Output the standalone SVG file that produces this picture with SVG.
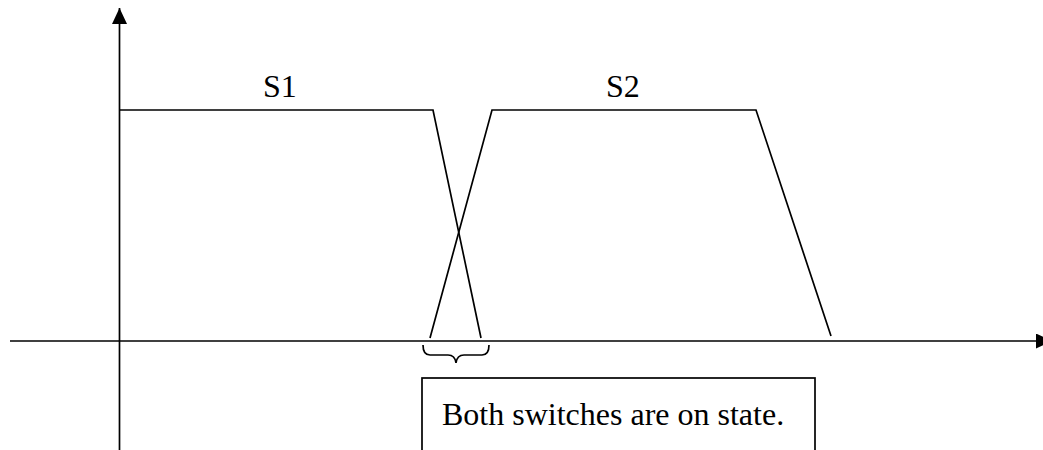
<svg xmlns="http://www.w3.org/2000/svg" width="1043" height="450" viewBox="0 0 1043 450">
<defs>
<style>
.ln{stroke:#000;stroke-width:1.7;fill:none}
.tx{font-family:"Liberation Serif","Times New Roman",serif;font-size:32px;fill:#000}
</style>
<marker id="ah" viewBox="0 0 16 15" refX="16" refY="7.5" markerWidth="16" markerHeight="15" markerUnits="userSpaceOnUse" orient="auto">
<path d="M0,0 L16,7.5 L0,15 Z" fill="#000"/>
</marker>
</defs>
<g id="connectors">
<line id="y-axis" class="ln" x1="119.5" y1="450" x2="119.5" y2="8" marker-end="url(#ah)"/>
<line id="x-axis" class="ln" x1="10" y1="341" x2="1052" y2="341" marker-end="url(#ah)"/>
</g>
<g id="S1">
<polyline class="ln" points="120,110 433,110 481,338"/>
<text class="tx" x="263" y="97">S1</text>
</g>
<g id="S2">
<polyline class="ln" points="430,338 492,110 756,110 831,336"/>
<text class="tx" x="606" y="97">S2</text>
</g>
<g id="brace">
<path class="ln" d="M423,345 Q423,355 430,355 L448,355 Q455,355 456,363 Q457,355 464,355 L482,355 Q489,355 489,345"/>
</g>
<g id="note">
<rect class="ln" x="422" y="378" width="393" height="90"/>
<text class="tx" x="442" y="425">Both switches are on state.</text>
</g>
</svg>
